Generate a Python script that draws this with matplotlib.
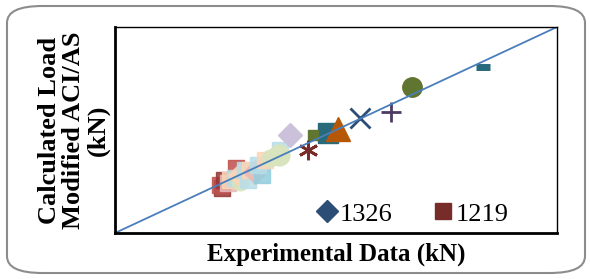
import matplotlib.pyplot as plt
from matplotlib.patches import FancyBboxPatch
from matplotlib.lines import Line2D

plt.rcParams['font.family'] = ['Liberation Serif', 'DejaVu Serif']

# labelled (distinct) specimens
main_x = [83.3, 67.2, 62.4, 55.4, 48.2, 50.5, 44.8, 39.6, 43.7, 37.1]
main_y = [80.6, 70.9, 58.7, 55.8, 48.5, 50.5, 47.6, 47.6, 40.3, 37.9]
main_markers = ['_', 'o', '+', 'x', 's', '^', 's', 'D', (6, 2, 0), 'o']
main_colors = ['#276A7C', '#5F7530', '#4D3B62', '#2C4D75', '#276A7C',
               '#B65708', '#5F7530', '#CCC1DA', '#772C2A', '#D7E4BD']
main_sizes = [10, 14, 14, 15, 15, 17, 7, 12, 14, 15]

# dense cluster of low-load specimens
clus_x = [24.2, 23.8, 24.7, 27.4, 25.6, 26.0, 27.1, 28.3, 28.3, 30.1, 29.4,
          30.5, 31.7, 33.3, 32.4, 33.9, 35.1, 37.3]
clus_y = [21.8, 23.3, 25.7, 31.6, 24.3, 25.7, 26.7, 24.8, 28.2, 25.7, 30.6,
          30.6, 29.6, 28.2, 33.0, 35.4, 36.4, 40.3]
clus_colors = ['#953735', '#C0504D', '#953735', '#C0504D', '#E6B9B8', '#FCD5B5',
               '#B7DEE8', '#D7E4BD', '#FCD5B5', '#B7DEE8', '#B7DEE8',
               '#FCD5B5', '#E6B9B8', '#93CDDD', '#B7DEE8', '#FCD5B5',
               '#D7E4BD', '#B7DEE8']
clus_markers = ['s', 's', 's', 's', 's', 's', 's', 'o', 'D', 's', 's',
                's', 'D', 's', 's', 's', 'o', 's']

legend_labels = ['1326', '1219']
legend_colors = ['#2C4D75', '#772C2A']
legend_markers = ['D', 's']

fig = plt.figure(figsize=(5.9, 2.79), dpi=100)
fig.patches.append(FancyBboxPatch((7 / 590, 6 / 279), 578 / 590, 267 / 279,
                                  boxstyle='round,pad=0,rounding_size=0.06',
                                  transform=fig.transFigure, facecolor='none',
                                  edgecolor='#8c8c8c', linewidth=1.5))

ax = fig.add_axes([115 / 590, 46 / 279, 442 / 590, 206 / 279])
ax.set_xlim(0, 100)
ax.set_ylim(0, 100)

for x, y, m, c in zip(clus_x, clus_y, clus_markers, clus_colors):
    ax.plot(x, y, marker=m, color=c, markersize=12, linestyle='none', alpha=0.85)
for x, y, m, c, s in zip(main_x, main_y, main_markers, main_colors, main_sizes):
    mew = 5 if m == '_' else (2 if m in ('+', 'x') or isinstance(m, tuple) else 1)
    ax.plot(x, y, marker=m, color=c, markersize=s, linestyle='none',
            markeredgewidth=mew)

ax.plot([0, 100], [0, 100], color='#4A7EBB', linewidth=1.3)

ax.set_xticks([])
ax.set_yticks([])
for side in ['top', 'right']:
    ax.spines[side].set_linewidth(1.0)
for side in ['left', 'bottom']:
    ax.spines[side].set_linewidth(2.0)

ax.set_xlabel('Experimental Data (kN)', fontsize=18, fontweight='bold', labelpad=7)
ax.set_ylabel('Calculated Load\nModified ACI/AS\n(kN)', fontsize=19,
              fontweight='bold', labelpad=4, linespacing=1.05)

handles = [Line2D([], [], marker=m, color=c, linestyle='none', markersize=11)
           for m, c in zip(legend_markers, legend_colors)]
ax.legend(handles, legend_labels, loc='lower right', bbox_to_anchor=(0.945, -0.08),
          ncol=2, frameon=False, fontsize=19, handletextpad=0.0,
          columnspacing=1.4, handlelength=1.0)

fig.savefig('out.png', dpi=100)
